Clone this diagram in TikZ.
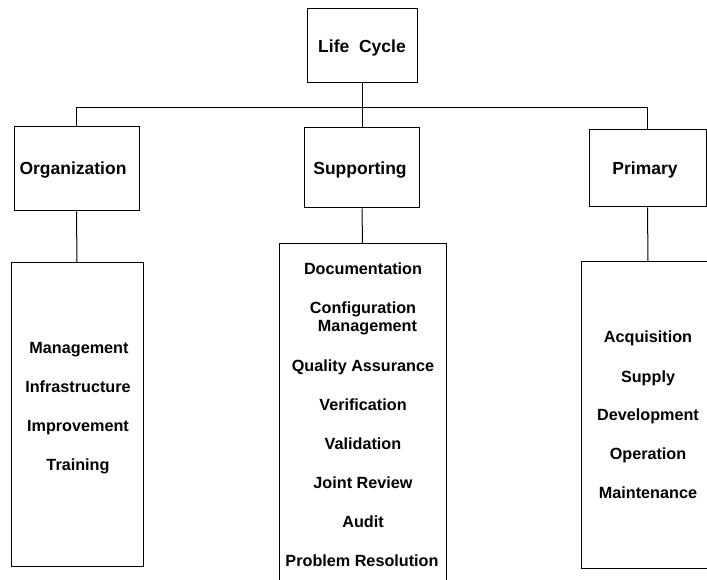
\documentclass[tikz,border=0pt]{standalone}
\usepackage{fontspec}
\setmainfont{Liberation Sans}
\begin{document}
\begin{tikzpicture}[x=1pt,y=-1pt,
  box/.style={draw,line width=1pt,inner sep=0pt},
  item/.style={font=\fontsize{16.2}{18}\selectfont\bfseries,align=center,inner sep=0pt,anchor=base},
  label/.style={font=\fontsize{17.5}{21}\selectfont\bfseries,inner sep=0pt,anchor=base},
  link/.style={line width=1pt}]
\useasboundingbox (0,0) rectangle (707,580);

% top level
\node[box,minimum width=110pt,minimum height=74pt] (life) at (362,46) {};
\node[label] (lifet) at (362,52.5) {Life\ \ Cycle};

% process groups
\node[box,minimum width=125pt,minimum height=84pt] (org) at (76.5,169) {};
\node[label] (orgt) at (73,174.5) {Organization};
\node[box,minimum width=115pt,minimum height=80pt] (supp) at (362,168) {};
\node[label] (suppt) at (360,174.5) {Supporting};
\node[box,minimum width=117pt,minimum height=77pt] (prim) at (647.5,168.5) {};
\node[label] (primt) at (645,174.5) {Primary};

% process lists
\node[box,minimum width=132pt,minimum height=303pt] (orglist) at (77,414.5) {};
\node[box,minimum width=167pt,minimum height=356pt] (supplist) at (362.5,422) {};
\node[box,minimum width=134pt,minimum height=306pt] (primlist) at (648,415) {};

\node[item] (o1) at (79,353) {Management};
\node[item] (o2) at (78,392) {Infrastructure};
\node[item] (o3) at (78,431) {Improvement};
\node[item] (o4) at (78,470) {Training};

\node[item] (s1) at (363,275) {Documentation};
\node[item] (s2) at (363,331) {Configuration\\\ \ Management};
\node[item] (s3) at (363,371) {Quality Assurance};
\node[item] (s4) at (363,410) {Verification};
\node[item] (s5) at (363,449) {Validation};
\node[item] (s6) at (363,488) {Joint Review};
\node[item] (s7) at (363,527) {Audit};
\node[item] (s8) at (362,566) {Problem Resolution};

\node[item] (p1) at (648,342) {Acquisition};
\node[item] (p2) at (648,382) {Supply};
\node[item] (p3) at (648,420) {Development};
\node[item] (p4) at (648,459) {Operation};
\node[item] (p5) at (648,498) {Maintenance};

% connectors
\coordinate (bus) at (0,108);
\draw[link] (life.south) -- (supp.north);
\draw[link] (org.north) -- (org.north |- bus) -- (prim.north |- bus) -- (prim.north);
\draw[link] (org.south) -- (orglist.north);
\draw[link] (supp.south) -- (supplist.north);
\draw[link] (prim.south) -- (primlist.north);
\end{tikzpicture}
\end{document}
